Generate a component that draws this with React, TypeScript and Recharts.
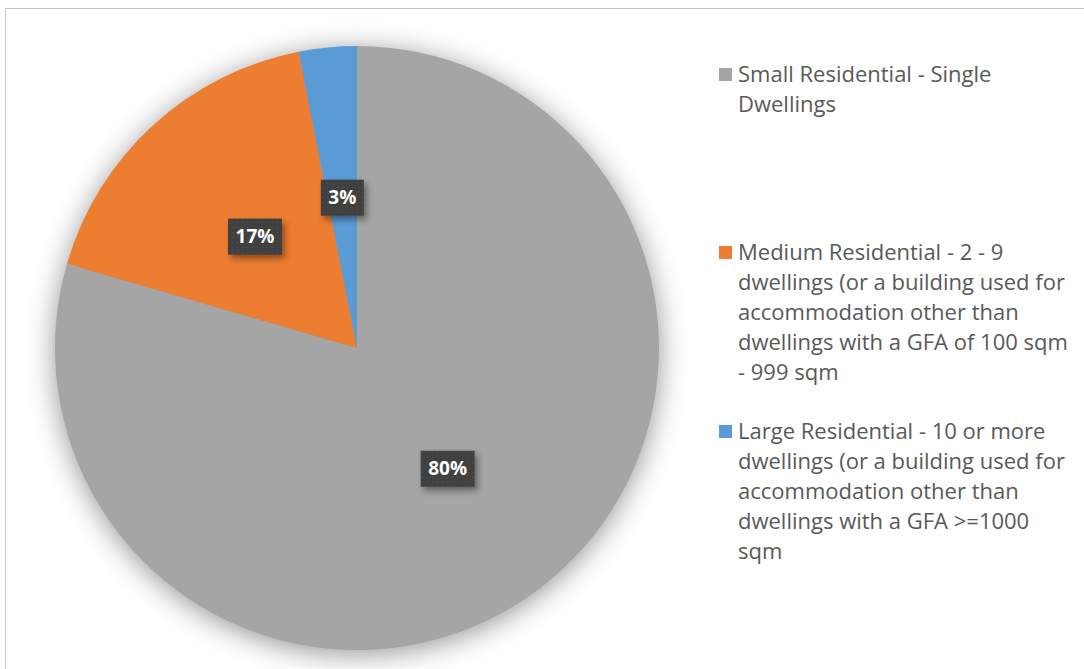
import React from "react";
import { PieChart, Pie, Cell, Legend } from "recharts";

// categories, values (share of applications, %) and slice colours
const categories = [
  "Small Residential - Single\nDwellings",
  "Medium Residential - 2 - 9\ndwellings (or a building used for\naccommodation other than\ndwellings with a GFA of 100 sqm\n- 999 sqm",
  "Large Residential - 10 or more\ndwellings (or a building used for\naccommodation other than\ndwellings with a GFA >=1000\nsqm",
];
const shares = [79.5, 17.4, 3.1];
const colors = ["#A5A5A5", "#ED7D31", "#5B9BD5"];

const data = categories.map((name, i) => ({ name, value: shares[i] }));

const RAD = Math.PI / 180;

function renderLabel(props: any) {
  const { cx, cy, midAngle, outerRadius, percent, index } = props;
  const r = outerRadius * 0.5;
  const x = cx + r * Math.cos(-midAngle * RAD);
  const y = cy + r * Math.sin(-midAngle * RAD);
  const text = Math.round(percent * 100) + "%";
  const w = 21 + text.length * 11;
  const h = 36;
  const pid = "dots" + index;
  return (
    <g key={"lbl" + index}>
      <defs>
        <pattern id={pid} width="5" height="5" patternUnits="userSpaceOnUse">
          <rect width="5" height="5" fill="#404040" />
          <circle cx="2.5" cy="2.5" r="0.8" fill="#4c4c4c" />
        </pattern>
      </defs>
      <rect
        x={x - w / 2}
        y={y - h / 2}
        width={w}
        height={h}
        fill={`url(#${pid})`}
        style={{ filter: "drop-shadow(3px 4px 3px rgba(0,0,0,0.4))" }}
      />
      <text
        x={x}
        y={y + 1}
        textAnchor="middle"
        dominantBaseline="middle"
        fill="#ffffff"
        fontFamily="'Open Sans', sans-serif"
        fontWeight={700}
        fontSize={19}
      >
        {text}
      </text>
    </g>
  );
}

function renderLegend(props: any) {
  const payload = [...(props.payload || [])].sort(
    (a: any, b: any) => categories.indexOf(a.value) - categories.indexOf(b.value)
  );
  const tops = [0, 178, 357];
  return (
    <div style={{ position: "relative", width: 360, height: 520 }}>
      {payload.map((entry: any, i: number) => (
        <div
          key={i}
          style={{
            position: "absolute",
            left: 0,
            top: tops[i],
            display: "flex",
            alignItems: "flex-start",
          }}
        >
          <div
            style={{
              width: 13,
              height: 13,
              background: entry.color,
              marginTop: 10,
              marginRight: 6,
              flex: "none",
            }}
          />
          <div
            style={{
              whiteSpace: "pre",
              fontFamily: "'Open Sans', sans-serif",
              fontSize: 22,
              lineHeight: "30px",
              color: "#595959",
            }}
          >
            {entry.value}
          </div>
        </div>
      ))}
    </div>
  );
}

export default function App() {
  return (
    <div style={{ position: "fixed", inset: 0, background: "#fff", overflow: "hidden" }}>
      <style>{`.recharts-pie { filter: drop-shadow(0px 4px 14px rgba(0,0,0,0.42)); }`}</style>
      <div
        style={{
          position: "absolute",
          left: 5,
          top: 8,
          width: 1090,
          height: 680,
          border: "1px solid #c6c6c6",
        }}
      />
      <div style={{ position: "absolute", left: 0, top: 0 }}>
        <PieChart width={1084} height={669}>
          <Pie
            data={data}
            dataKey="value"
            nameKey="name"
            cx={352}
            cy={343}
            outerRadius={302}
            startAngle={90}
            endAngle={-270}
            stroke="none"
            labelLine={false}
            label={renderLabel}
            isAnimationActive={false}
          >
            {data.map((d, i) => (
              <Cell key={d.name} fill={colors[i]} />
            ))}
          </Pie>
          <Legend
            layout="vertical"
            align="right"
            verticalAlign="top"
            content={renderLegend}
            wrapperStyle={{ left: 719, top: 58, width: 360 }}
          />
        </PieChart>
      </div>
    </div>
  );
}
